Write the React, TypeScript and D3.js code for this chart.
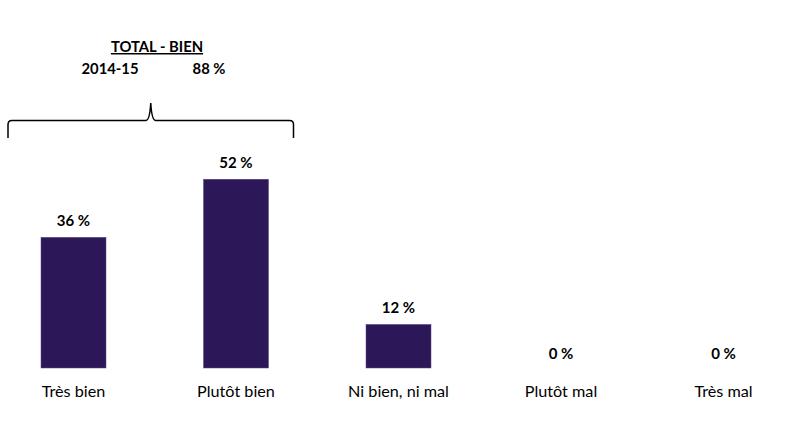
import React from "react";
import * as d3 from "d3";

const categories = ["Très bien", "Plutôt bien", "Ni bien, ni mal", "Plutôt mal", "Très mal"];
const values = [36, 52, 12, 0, 0];
const totalTitle = "TOTAL - BIEN";
const totalYear = "2014-15";
const totalValue = 88;

const W = 789;
const H = 432;

export default function App() {
  const x = d3
    .scaleBand<string>()
    .domain(categories)
    .range([-7.75, 804.75])
    .paddingInner(0.6)
    .paddingOuter(0.3);
  const y = d3.scaleLinear().domain([0, 100]).range([368, 5]);
  const font = "Lato, 'Open Sans', sans-serif";

  // brace spanning first two categories
  const bx0 = 8;
  const bx1 = 293.5;
  const bTop = 120.5;
  const bBot = 138;
  const mid = (bx0 + bx1) / 2;
  const tipY = 103;
  const r = 4;
  const bracePath = [
    `M${bx0},${bBot}`,
    `L${bx0},${bTop + r}`,
    `Q${bx0},${bTop} ${bx0 + r},${bTop}`,
    `L${mid - 5},${bTop}`,
    `Q${mid - 1},${bTop} ${mid},${tipY}`,
    `Q${mid + 1},${bTop} ${mid + 5},${bTop}`,
    `L${bx1 - r},${bTop}`,
    `Q${bx1},${bTop} ${bx1},${bTop + r}`,
    `L${bx1},${bBot}`,
  ].join(" ");

  return (
    <svg width={W} height={H} style={{ position: "absolute", left: 0, top: 0, background: "#fff" }}>
      <rect x={0} y={0} width={W} height={H} fill="#fff" />
      {categories.map((c, i) => {
        const bx = x(c)!;
        const bw = x.bandwidth();
        const v = values[i];
        const top = y(v);
        return (
          <g key={c}>
            {v > 0 && (
              <rect x={bx} y={top} width={bw} height={y(0) - top} fill="#2c1858" stroke="#5a4a80" strokeWidth={0.5} />
            )}
            <text
              x={bx + bw / 2}
              y={top - (v > 0 ? 11.5 : 9.5)}
              textAnchor="middle"
              fontFamily={font}
              fontWeight="bold"
              fontSize={15}
              fill="#000"
            >
              {`${v} %`}
            </text>
            <text
              x={bx + bw / 2}
              y={397}
              textAnchor="middle"
              fontFamily={font}
              fontSize={16.2}
              fill="#000"
            >
              {c}
            </text>
          </g>
        );
      })}
      <path d={bracePath} fill="none" stroke="#000" strokeWidth={1.5} />
      <text x={157} y={52} textAnchor="middle" fontFamily={font} fontWeight="bold" fontSize={14.8} textDecoration="underline">
        {totalTitle}
      </text>
      <text x={110} y={74} textAnchor="middle" fontFamily={font} fontWeight="bold" fontSize={14.8}>
        {totalYear}
      </text>
      <text x={209} y={74} textAnchor="middle" fontFamily={font} fontWeight="bold" fontSize={14.8}>
        {`${totalValue} %`}
      </text>
    </svg>
  );
}
